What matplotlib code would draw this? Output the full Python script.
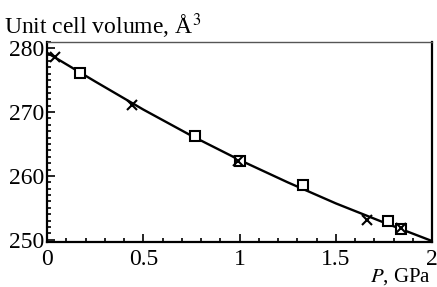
import matplotlib
matplotlib.use("Agg")
import matplotlib.pyplot as plt
from matplotlib.ticker import MultipleLocator

plt.rcParams['font.family'] = ['Liberation Serif', 'DejaVu Serif']
plt.rcParams['mathtext.fontset'] = 'stix'

# measured points
p_cross = [0.04, 0.44, 0.99, 1.66, 1.84]
v_cross = [278.6, 271.1, 262.4, 253.1, 251.8]
p_square = [0.17, 0.77, 1.00, 1.33, 1.77, 1.84]
v_square = [276.1, 266.2, 262.4, 258.5, 252.9, 251.7]

# fitted curve
p_fit = [0.0, 0.25, 0.5, 0.75, 1.0, 1.25, 1.5, 1.75, 2.0]
v_fit = [279.3, 274.8, 270.4, 266.3, 262.5, 259.0, 255.7, 252.7, 249.8]

fig = plt.figure(figsize=(4.37, 2.87), dpi=100)
ax = fig.add_axes([0.1076, 0.158, 0.881, 0.696])

ax.plot(p_fit, v_fit, color='black', lw=1.7, zorder=2)
ax.plot(p_square, v_square, 's', ms=6.5, mfc='white', mec='black', mew=1.5, zorder=3)
ax.plot(p_cross, v_cross, 'x', ms=6.5, color='black', mew=1.5, zorder=4)

ax.set_xlim(0, 2)
ax.set_ylim(249.7, 281)
ax.xaxis.set_minor_locator(MultipleLocator(0.1))
ax.yaxis.set_major_locator(MultipleLocator(10))
ax.yaxis.set_minor_locator(MultipleLocator(1))
ax.set_xticks([0, 0.5, 1, 1.5, 2])
ax.set_xticklabels(['0', '0.5', '1', '1.5', '2'])
ax.tick_params(which='both', direction='in', top=False, right=False,
               labelsize=17, width=1.2, color='black')
ax.tick_params(which='major', length=6)
ax.tick_params(axis='x', which='major', pad=5)
ax.tick_params(axis='y', which='major', pad=2)
ax.tick_params(which='minor', length=3)

for s in ['left', 'bottom', 'right']:
    ax.spines[s].set_linewidth(1.6)
ax.spines['top'].set_linewidth(1.0)
ax.spines['top'].set_color('#555555')

fig.text(0.01, 0.91, r"Unit cell volume, Å$^3$", fontsize=17, ha='left', va='center')
fig.text(0.985, 0.0, r"$\it{P}$, GPa", fontsize=15, ha='right', va='bottom')

fig.savefig("out.png", dpi=100)
